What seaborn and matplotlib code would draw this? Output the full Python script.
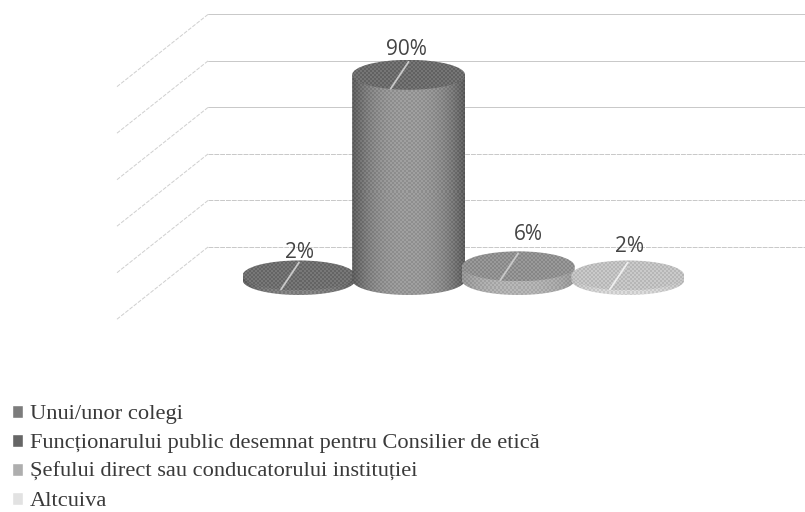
import numpy as np
import pandas as pd
import seaborn as sns
import matplotlib
matplotlib.use('Agg')
import matplotlib.pyplot as plt
from matplotlib.colors import to_rgb
from matplotlib.patches import Ellipse, Polygon

categories = ['Unui/unor colegi',
              'Funcționarului public desemnat pentru Consilier de etică',
              'Șefului direct sau conducatorului instituției',
              'Altcuiva']
values = [2, 90, 6, 2]
value_labels = ['2%', '90%', '6%', '2%']
grid_levels = [0, 20, 40, 60, 80, 100]

legend_colors = ['#7c7c7c', '#666666', '#aeaeae', '#e2e2e2']
top_colors = ['#6e6e6e', '#6c6c6c', '#909090', '#c0c0c0']
edge_colors = ['#5e5e5e', '#5c5c5c', '#949494', '#bcbcbc']
mid_colors = ['#808080', '#979797', '#b0b0b0', '#d4d4d4']
line_colors = ['#c9c9c9', '#c9c9c9', '#c9c9c9', '#efefef']

# pixel scale of the picture, used for the pseudo 3d depth
PX_X = 109.6
PX_Y = 2.28
DISC_H = 30 / PX_Y
label_shift = [(0, 23), (-2, 25), (10, 32), (2, 29)]


def grain(rows, cols, amount=0.035):
    # halftone look of the scan
    i, j = np.indices((rows, cols))
    return amount * (2 * (((i // 2) + (j // 2)) % 2) - 1)


sns.set_theme(style='white')
plt.rcParams['font.family'] = ['Open Sans', 'DejaVu Sans']

df = pd.DataFrame({'who': categories, 'share': values})

fig = plt.figure(figsize=(8.05, 5.12), dpi=100)
ax = fig.add_axes([0, 0, 1, 1])
sns.barplot(data=df, x='who', y='share', hue='who', palette=legend_colors,
            saturation=1, width=1.03, dodge=False, legend=True, ax=ax)

xlim = (-299 / PX_X, (805 - 299) / PX_X)
ylim = ((280 - 512) / PX_Y, 280 / PX_Y)

# back wall and side wall gridlines
for lev in grid_levels:
    y_back = (280 - 247) / PX_Y + lev * 1.02
    x_wall = xlim[0] + 208 / PX_X
    ax.plot([x_wall, xlim[1]], [y_back, y_back], color='#c8c8c8', lw=0.7,
            ls=(0, (5, 1)) if lev < 60 else '-', zorder=0.5)
    ax.plot([x_wall, xlim[0] + 116 / PX_X], [y_back, y_back - 73 / PX_Y],
            color='#cfcfcf', lw=0.7, ls=(0, (4, 1.5)), zorder=0.5)

# cylinders on top of the bars seaborn made
for i, bar in enumerate(ax.patches[:len(values)]):
    bar.set_visible(False)
    x0 = bar.get_x()
    w = bar.get_width()
    cx = x0 + w / 2
    top = bar.get_height()
    z = 2 + i

    t = np.linspace(0, np.pi, 60)
    xs = cx + w / 2 * np.cos(t)
    ys = -DISC_H / 2 * np.sin(t)
    outline = np.column_stack([np.r_[xs, x0, x0 + w], np.r_[ys, top, top]])
    clip = Polygon(outline, closed=True, transform=ax.transData, fc='none', ec='none')
    ax.add_patch(clip)

    rows = int((top + DISC_H) * PX_Y)
    cols = int(w * PX_X)
    edge = to_rgb(edge_colors[i])[0]
    mid = to_rgb(mid_colors[i])[0]
    across = np.abs(np.linspace(-1, 1, cols)) ** 2.5
    shade = np.tile(mid + (edge - mid) * across, (rows, 1)) + grain(rows, cols)
    im = ax.imshow(shade, cmap='gray', vmin=0, vmax=1, aspect='auto', interpolation='nearest',
                   extent=(x0, x0 + w, -DISC_H, top), zorder=z)
    im.set_clip_path(clip)

    disc = Ellipse((cx, top), w, DISC_H, fc='none', ec='none', transform=ax.transData)
    ax.add_patch(disc)
    rows = int(DISC_H * PX_Y)
    shade = to_rgb(top_colors[i])[0] + grain(rows, cols, 0.04)
    im = ax.imshow(shade, cmap='gray', vmin=0, vmax=1, aspect='auto', interpolation='nearest',
                   extent=(x0, x0 + w, top - DISC_H / 2, top + DISC_H / 2), zorder=z + 0.2)
    im.set_clip_path(disc)

    # leader line
    ax.plot([cx, cx - 18 / PX_X], [top + 13 / PX_Y, top - 14 / PX_Y],
            color=line_colors[i], lw=1.3, zorder=z + 0.3, solid_capstyle='round')
    sx, sy = label_shift[i]
    ax.text(cx + sx / PX_X, top + sy / PX_Y, value_labels[i], ha='center', va='center',
            fontsize=15, color='#444444', zorder=20)

ax.set_xlim(xlim)
ax.set_ylim(ylim)
ax.set_axis_off()

handles, labels = ax.get_legend_handles_labels()
leg = ax.legend(handles, labels, loc='upper left', bbox_to_anchor=(12 / 805, 1 - 405 / 512),
                frameon=False, handlelength=0.5, handleheight=0.5, handletextpad=0.3,
                labelspacing=0.43, borderpad=0, borderaxespad=0,
                prop={'family': 'Liberation Serif', 'size': 16.1})
for txt in leg.get_texts():
    txt.set_color('#3a3a3a')

fig.savefig('out.png', dpi=100)
